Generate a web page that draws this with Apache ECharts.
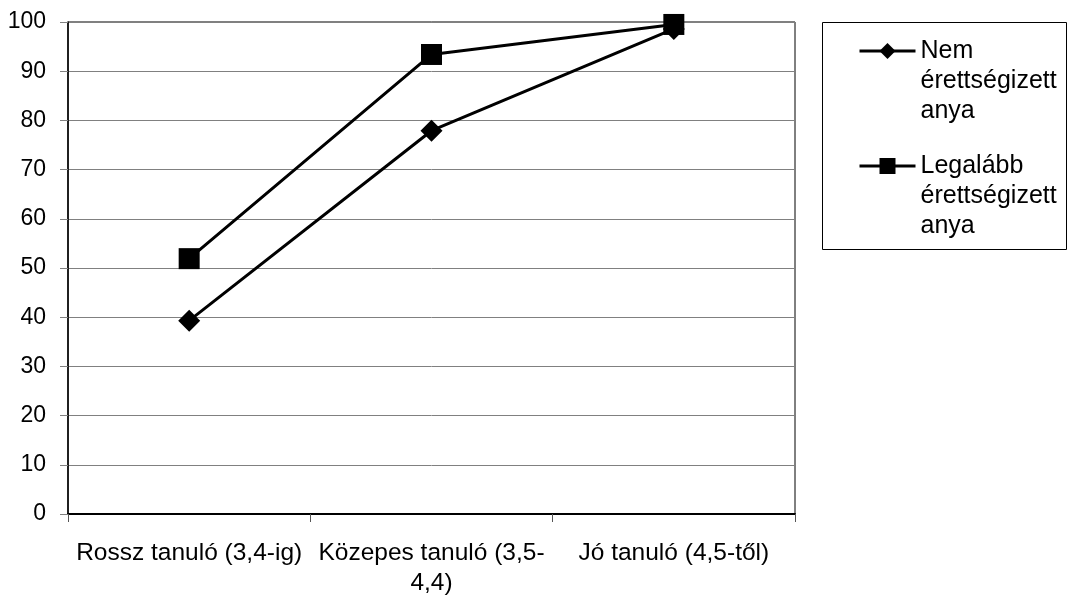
<!DOCTYPE html>
<html>
<head>
<meta charset="utf-8">
<script src="https://cdn.jsdelivr.net/npm/echarts@6/dist/echarts.min.js"></script>
<style>
  html, body { margin: 0; padding: 0; background: #fff; }
  #chart { width: 1078px; height: 595px; }
</style>
</head>
<body>
<div id="chart"></div>
<script>
// Tanulmányi eredmény kategóriák
const categories = ['Rossz tanuló (3,4-ig)', 'Közepes tanuló (3,5-\n4,4)', 'Jó tanuló (4,5-től)'];
// Sorozatnevek (jelmagyarázat sortörésekkel)
const seriesNames = ['Nem\nérettségizett\nanya', 'Legalább\nérettségizett\nanya'];
// Értékek (%)
const nemErettsegizett = [39.3, 77.9, 98.6];
const legalabbErettsegizett = [51.9, 93.4, 99.5];
// Y tengely
const yMin = 0, yMax = 100, yStep = 10;

const FONT = '"Liberation Sans", Arial, sans-serif';
const chart = echarts.init(document.getElementById('chart'), null, { renderer: 'canvas' });

chart.setOption({
  animation: false,
  backgroundColor: '#ffffff',
  textStyle: { fontFamily: FONT, color: '#000' },
  grid: {
    left: 68, right: 283, top: 22, bottom: 81,
    outerBoundsMode: 'none',
    containLabel: false,
    show: true, borderColor: '#000', borderWidth: 1, backgroundColor: 'transparent'
  },
  legend: {
    orient: 'vertical',
    left: 858,
    top: -24,
    padding: 0,
    itemGap: -35,
    itemWidth: 56,
    itemHeight: 20,
    selectedMode: false,
    data: seriesNames,
    // két üres sor elöl: így a jel az első sor magasságába kerül
    formatter: function (name) { return '\n\n' + name; },
    lineStyle: { width: 3 },
    textStyle: {
      fontFamily: FONT,
      fontSize: 25,
      lineHeight: 30,
      color: '#000'
    }
  },
  graphic: [{
    type: 'rect',
    shape: { x: 822.5, y: 22.5, width: 244, height: 227 },
    style: { fill: 'none', stroke: '#000', lineWidth: 1 },
    z: -1
  }],
  xAxis: {
    type: 'category',
    data: categories,
    boundaryGap: true,
    axisLine: { show: true, lineStyle: { color: '#000', width: 2 } },
    axisTick: { show: true, length: 8, lineStyle: { color: '#555', width: 1 } },
    axisLabel: {
      interval: 0,
      margin: 24,
      fontFamily: FONT,
      fontSize: 24.5,
      lineHeight: 30,
      color: '#000'
    },
    splitLine: { show: false }
  },
  yAxis: {
    type: 'value',
    min: yMin, max: yMax, interval: yStep,
    axisLine: { show: true, lineStyle: { color: '#000', width: 1.5 } },
    axisTick: { show: true, length: 8, lineStyle: { color: '#808080', width: 1 } },
    axisLabel: { margin: 22, fontFamily: FONT, fontSize: 23, color: '#000' },
    splitLine: { show: true, lineStyle: { color: '#808080', width: 1 } }
  },
  series: [
    {
      name: seriesNames[0],
      type: 'line',
      data: nemErettsegizett,
      symbol: 'diamond',
      symbolSize: 22,
      lineStyle: { color: '#000', width: 3 },
      itemStyle: { color: '#000' },
      z: 2
    },
    {
      name: seriesNames[1],
      type: 'line',
      data: legalabbErettsegizett,
      symbol: 'rect',
      symbolSize: 21,
      lineStyle: { color: '#000', width: 3 },
      itemStyle: { color: '#000' },
      z: 3
    }
  ]
});
</script>
</body>
</html>
